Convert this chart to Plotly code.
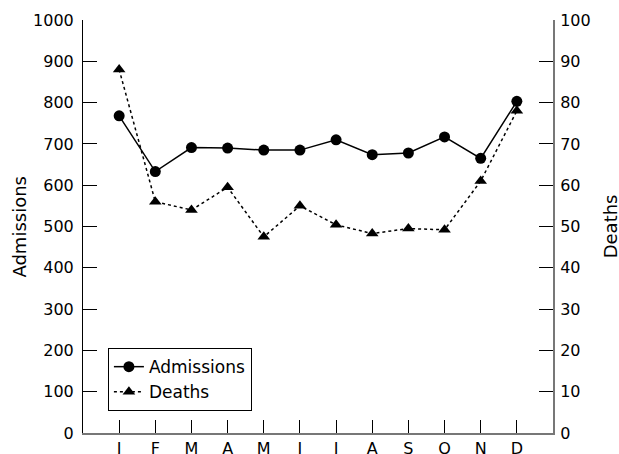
import plotly.graph_objects as go

months = ["J", "F", "M", "A", "M", "J", "J", "A", "S", "O", "N", "D"]
admissions = [768, 633, 691, 690, 685, 685, 710, 674, 678, 717, 665, 803]
deaths = [88, 56, 54, 59.5, 47.5, 55, 50.4, 48.3, 49.5, 49.2, 61, 78]
left_ticks = list(range(0, 1001, 100))
right_ticks = list(range(0, 101, 10))

x = list(range(len(months)))
FONT = "DejaVu Sans"

fig = go.Figure()
fig.add_trace(go.Scatter(
    x=x, y=admissions, name="Admissions", mode="lines+markers",
    line=dict(color="black", width=1.5),
    marker=dict(symbol="circle", size=11, color="black"),
))
fig.add_trace(go.Scatter(
    x=x, y=deaths, name="Deaths", mode="lines+markers", yaxis="y2",
    line=dict(color="black", width=1.5, dash="dot"),
    marker=dict(symbol="triangle-up", size=11, color="black"),
))

fig.update_layout(
    width=619, height=454,
    margin=dict(l=83, r=66, t=20, b=21),
    paper_bgcolor="white", plot_bgcolor="white",
    font=dict(family=FONT, size=16, color="black"),
    showlegend=True,
    legend=dict(
        x=0.053, y=0.053, xanchor="left", yanchor="bottom",
        bordercolor="black", borderwidth=1, bgcolor="white",
        font=dict(family=FONT, size=17, color="black"),
        tracegroupgap=0, itemwidth=30,
    ),
    xaxis=dict(
        range=[-1, 12], tickvals=x, ticktext=months,
        ticks="inside", ticklen=13, tickcolor="black", tickwidth=1,
        showline=True, linecolor="#777777", linewidth=2,
        showgrid=False, zeroline=False, automargin=False,
        tickfont=dict(family=FONT, size=16),
    ),
    yaxis=dict(
        range=[0, 1000], tickvals=left_ticks,
        ticks="inside", ticklen=14, tickcolor="black", tickwidth=1,
        showline=True, linecolor="black", linewidth=1,
        showgrid=False, zeroline=False, automargin=False,
        tickfont=dict(family=FONT, size=16),
        ticklabelstandoff=5,
    ),
    yaxis2=dict(
        range=[0, 100], tickvals=right_ticks, overlaying="y", side="right",
        ticks="inside", ticklen=14, tickcolor="black", tickwidth=1,
        showline=True, linecolor="#777777", linewidth=2,
        showgrid=False, zeroline=False, automargin=False,
        tickfont=dict(family=FONT, size=16),
        ticklabelstandoff=2,
    ),
    annotations=[
        dict(text="Admissions", textangle=-90, xref="paper", yref="paper",
             x=-0.136, y=0.5, xanchor="center", yanchor="middle",
             showarrow=False, font=dict(family=FONT, size=18)),
        dict(text="Deaths", textangle=-90, xref="paper", yref="paper",
             x=1.123, y=0.5, xanchor="center", yanchor="middle",
             showarrow=False, font=dict(family=FONT, size=18)),
    ],
)

fig.write_html(
    "out.html",
    config={"displayModeBar": False},
    post_script="document.body.style.margin='0';document.body.style.overflow='hidden';",
)
